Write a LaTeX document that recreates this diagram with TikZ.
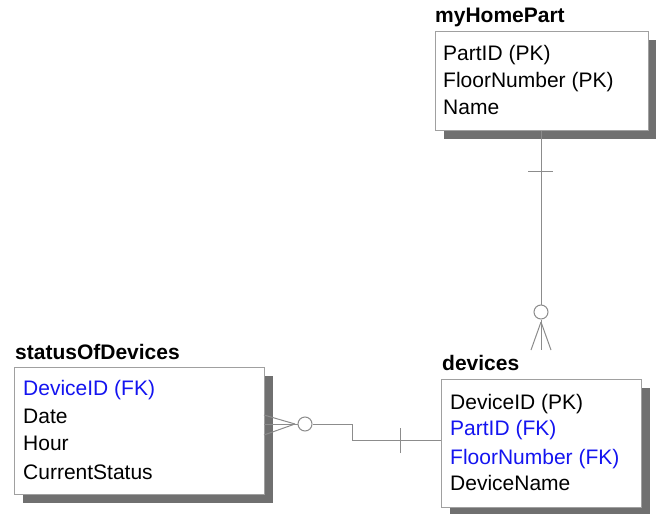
\documentclass[tikz,border=0pt]{standalone}
\usepackage{fontspec}
\setmainfont{Liberation Sans}
\usetikzlibrary{shadows}

\definecolor{boxgray}{RGB}{160,160,160}
\definecolor{linegray}{RGB}{140,140,140}
\definecolor{shadowgray}{RGB}{112,112,112}
\definecolor{fkblue}{RGB}{20,20,240}

\tikzset{
  tbl/.style={draw=boxgray, fill=white, anchor=north west, inner sep=0, line width=1pt,
    drop shadow={shadow xshift=8pt, shadow yshift=-8pt, fill=shadowgray, opacity=1}},
  ttl/.style={anchor=west, inner sep=0, font=\bfseries\fontsize{21}{25}\selectfont},
  fld/.style={anchor=west, inner sep=0, text height=15pt, text depth=0pt, font=\fontsize{21}{25}\selectfont},
  fk/.style={fld, text=fkblue},
  rel/.style={draw=linegray, line width=1pt},
  ring/.style={circle, draw=linegray, line width=1pt, fill=white, minimum size=14pt, inner sep=0},
}

\begin{document}
\begin{tikzpicture}[x=1pt, y=-1pt]
\useasboundingbox (0,0) rectangle (656,514);

% tables
\node[tbl, minimum width=213pt, minimum height=99pt] (hp) at (435,31) {};
\node[tbl, minimum width=250pt, minimum height=127pt] (st) at (14,367) {};
\node[tbl, minimum width=200pt, minimum height=128pt] (dev) at (441,379) {};

\node[ttl] (hpname) at (435,17) {myHomePart};
\node[fld] (hp1) at (443,53) {PartID (PK)};
\node[fld] (hp2) at (443,80) {FloorNumber (PK)};
\node[fld] (hp3) at (443,107) {Name};

\node[ttl] (stname) at (15,352) {statusOfDevices};
\node[fk] (st1) at (23,388) {DeviceID (FK)};
\node[fld] (st2) at (23,416) {Date};
\node[fld] (st3) at (23,443) {Hour};
\node[fld] (st4) at (23,472) {CurrentStatus};

\node[ttl] (devname) at (442,363) {devices};
\node[fld] (dev1) at (450,402) {DeviceID (PK)};
\node[fk] (dev2) at (450,428) {PartID (FK)};
\node[fk] (dev3) at (450,457) {FloorNumber (FK)};
\node[fld] (dev4) at (450,483) {DeviceName};

% myHomePart -- devices
\node[ring] (c1) at (541,312) {};
\coordinate (bar1) at (541,171);
\coordinate (f1) at (541,322);
\coordinate (f1a) at (531,350);
\coordinate (f1b) at (541,350);
\coordinate (f1c) at (551,350);

\draw[rel] (hp.south -| c1) to (c1);
\draw[rel] ([xshift=-13pt]bar1) to ([xshift=12pt]bar1);
\draw[rel] (c1.south) to (f1);
\draw[rel] (f1) to (f1a);
\draw[rel] (f1) to (f1b);
\draw[rel] (f1) to (f1c);

% statusOfDevices -- devices
\node[ring] (c2) at (305,424) {};
\coordinate (f2) at (295,424);
\coordinate (f2a) at (264,415);
\coordinate (f2b) at (264,424);
\coordinate (f2c) at (264,435);
\coordinate (j1) at (352,424);
\coordinate (j2) at (441,440);
\coordinate (bar2) at (400,440);

\draw[rel] (c2.east) to (j1) |- (j2);
\draw[rel] ([yshift=-13pt]bar2) to ([yshift=12pt]bar2);
\draw[rel] (c2.west) to (f2);
\draw[rel] (f2) to (f2a);
\draw[rel] (f2) to (f2b);
\draw[rel] (f2) to (f2c);

\end{tikzpicture}
\end{document}
